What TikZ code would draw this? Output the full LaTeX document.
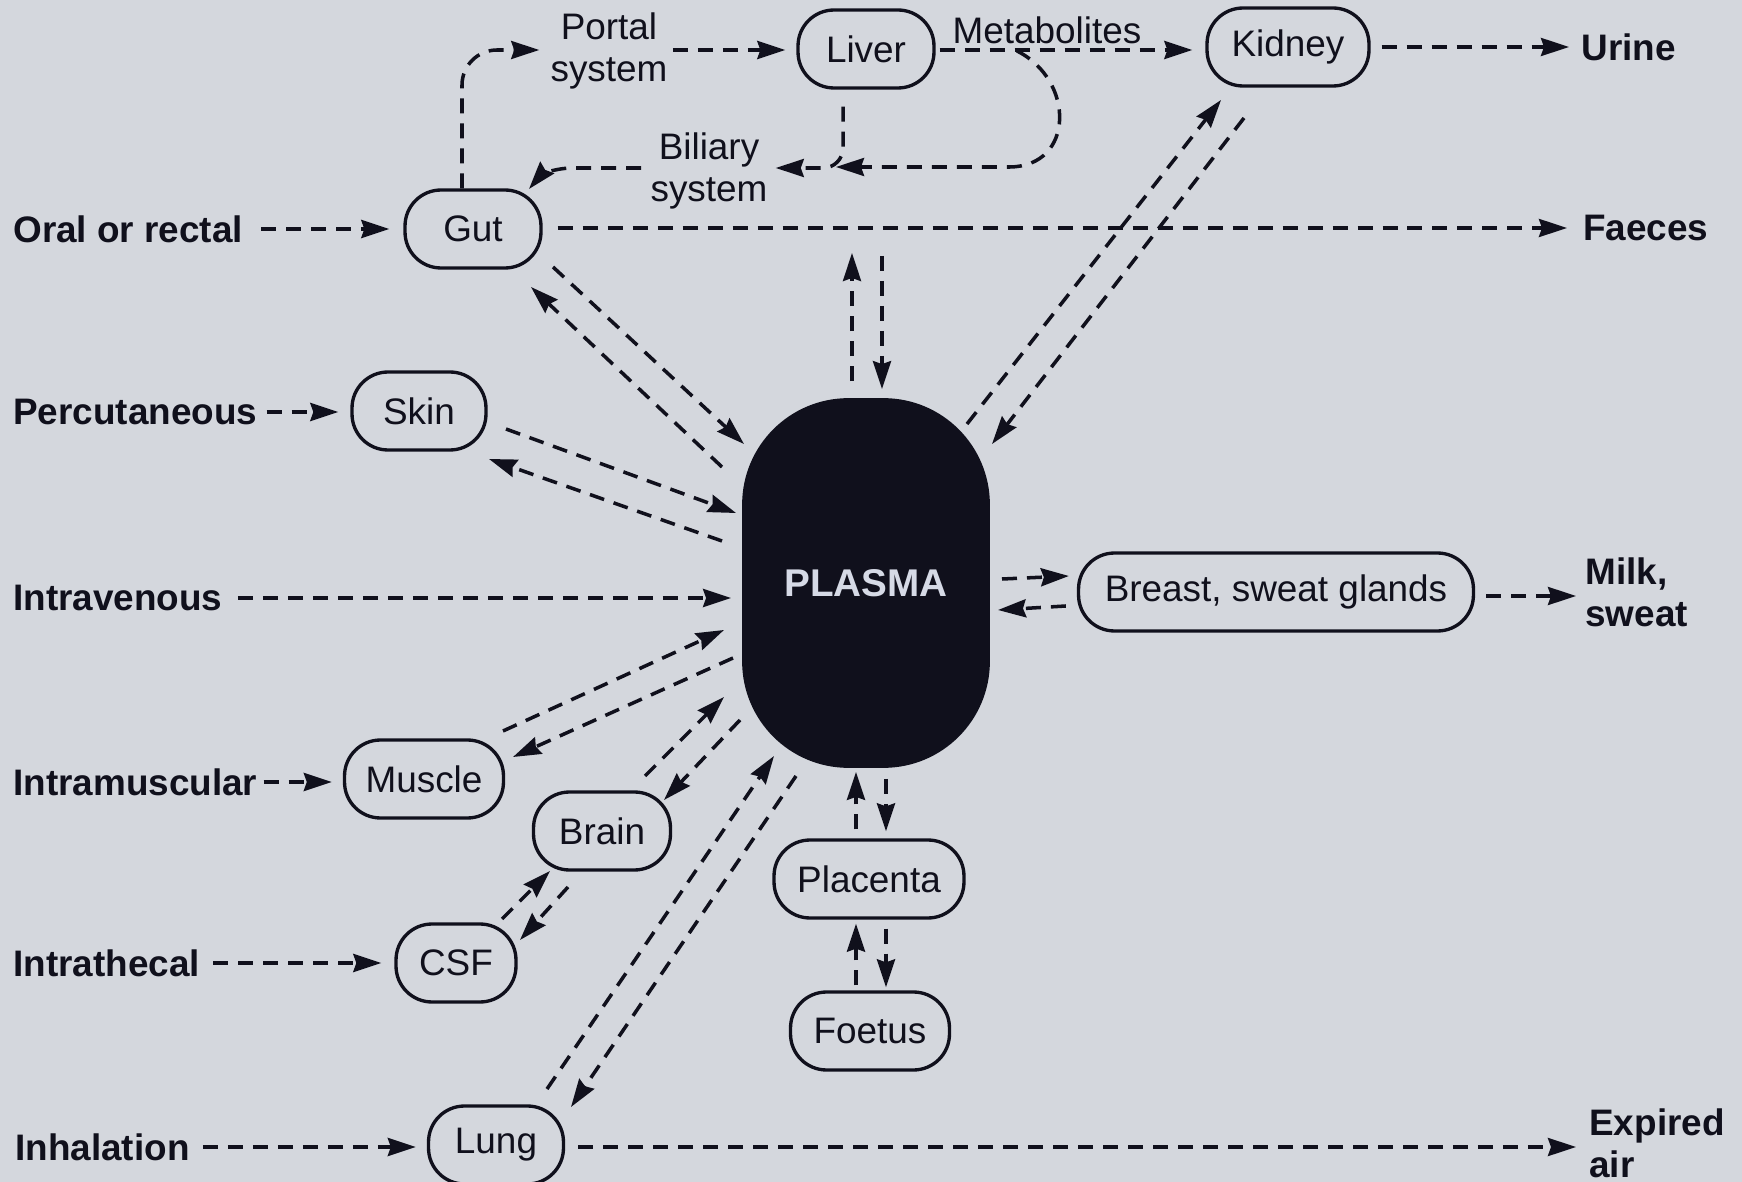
\documentclass[tikz,border=0pt]{standalone}
\usepackage{fontspec}
\setmainfont{Liberation Sans}
\usetikzlibrary{arrows.meta,calc}
\definecolor{bg}{RGB}{212,215,221}
\definecolor{ink}{RGB}{16,16,28}
\definecolor{plasmatext}{RGB}{214,218,230}
\begin{document}
\begin{tikzpicture}[x=0.02cm,y=-0.02cm,
 organ/.style={draw=ink, line width=1.9pt, rounded corners=0.72cm, minimum height=1.56cm, inner sep=0pt, text=ink, font=\fontsize{21}{24}\selectfont},
 route/.style={inner sep=0pt, text=ink, font=\fontsize{21}{24}\selectfont\bfseries},
 plain/.style={inner sep=0pt, text=ink, font=\fontsize{21}{24}\selectfont, align=center},
 flow/.style={draw=ink, line width=2pt, dash pattern=on 0.3cm off 0.2cm, -{Stealth[length=0.56cm,width=0.36cm,inset=0.06cm]}},
]
\fill[bg] (0,0) rectangle (1742,1182);
\useasboundingbox (0,0) rectangle (1742,1182);

% organs
\node[organ, minimum width=2.72cm] (liver) at (866,49) {Liver};
\node[organ, minimum width=3.24cm] (kidney) at (1288,47) {Kidney};
\node[organ, minimum width=2.72cm] (gut) at (473,229) {Gut};
\node[organ, minimum width=2.68cm] (skin) at (419,411) {Skin};
\node[draw=ink, fill=ink, line width=1.6pt, rounded corners=2.1cm, minimum width=4.9cm, minimum height=7.34cm, text=plasmatext, font=\fontsize{22}{26}\selectfont\bfseries] (plasma) at (866,583) {PLASMA};
\node[organ, minimum width=7.9cm] (breast) at (1276,592) {Breast, sweat glands};
\node[organ, minimum width=3.18cm] (muscle) at (424,779) {Muscle};
\node[organ, minimum width=2.74cm] (brain) at (602,831) {Brain};
\node[organ, minimum width=3.8cm] (placenta) at (869,879) {Placenta};
\node[organ, minimum width=2.4cm] (csf) at (456,963) {CSF};
\node[organ, minimum width=3.18cm] (foetus) at (870,1031) {Foetus};
\node[organ, minimum width=2.7cm] (lung) at (496,1145) {Lung};

% route labels
\node[route, anchor=west] (oral) at (13,229) {Oral or rectal};
\node[route, anchor=west] (perc) at (13,412) {Percutaneous};
\node[route, anchor=west] (iv) at (13,598) {Intravenous};
\node[route, anchor=west] (im) at (13,782) {Intramuscular};
\node[route, anchor=west] (it) at (13,963) {Intrathecal};
\node[route, anchor=west] (inh) at (15,1147) {Inhalation};

% outputs
\node[route, anchor=west] (urine) at (1581,47) {Urine};
\node[route, anchor=west] (faeces) at (1583,228) {Faeces};
\node[route, anchor=west, align=left] (milk) at (1585,592) {Milk,\\sweat};
\node[route, anchor=west, align=left] (expired) at (1589,1143) {Expired\\air};

% other texts
\node[plain] (portal) at (609,51) {Portal\\system};
\node[plain] (biliary) at (709,171) {Biliary\\system};
\node[plain] (metab) at (1047,30) {Metabolites};

% free ends
\coordinate (mstart) at (1017,51);
\coordinate (mend) at (836,167);
\coordinate (liverup) at (852,253);
\coordinate (liverdn) at (882,256);

% entry routes
\draw[flow] ($(oral.east)+(18,0)$) -- ($(gut.west)+(-14,0)$);
\draw[flow] ($(perc.east)+(9,0)$) -- ($(skin.west)+(-12,1)$);
\draw[flow] ($(iv.east)+(15,0)$) -- ($(plasma.west)+(-11,15)$);
\draw[flow] ($(im.east)+(6,0)$) -- ($(muscle.west)+(-11,3)$);
\draw[flow] ($(it.east)+(13,0)$) -- ($(csf.west)+(-13,0)$);
\draw[flow] ($(inh.east)+(13,0)$) -- ($(lung.west)+(-11,2)$);

% exits
\draw[flow] ($(gut.east)+(15,-1)$) -- ($(faeces.west)+(-16,0)$);
\draw[flow] ($(kidney.east)+(11,0)$) -- ($(urine.west)+(-12,0)$);
\draw[flow] ($(breast.east)+(11,4)$) -- ($(milk.west)+(-9,4)$);
\draw[flow] ($(lung.east)+(13,2)$) -- ($(expired.west)+(-13,4)$);

% portal / liver / biliary
\draw[flow, rounded corners=0.7cm] ($(gut.north)+(-11,0)$) |- ($(portal.west)+(-11,-1)$);
\draw[flow] ($(portal.east)+(5,-1)$) -- ($(liver.west)+(-11,1)$);
\draw[flow] ($(liver.east)+(4,1)$) -- ($(kidney.west)+(-13,3)$);
\draw[flow, rounded corners=0.4cm] ($(liver.south)+(-23,17)$) |- ($(biliary.east)+(8,-3)$);
\draw[flow] (mstart) .. controls (1075,80) and (1075,166) .. (1010,167) -- (mend);
\draw[flow] ($(biliary.west)+(-9,-3)$) -- ($(gut)+(100,-61)$) .. controls ($(gut)+(80,-61)$) and ($(gut)+(67,-53)$) .. ($(gut)+(56,-40)$);

% plasma exchanges
\draw[flow] ($(gut)+(80,38)$) -- ($(plasma)+(-122,-139)$);
\draw[flow] ($(plasma)+(-144,-116)$) -- ($(gut)+(58,58)$);
\draw[flow] ($(skin)+(87,18)$) -- ($(plasma)+(-130,-70)$);
\draw[flow] ($(plasma)+(-144,-42)$) -- ($(skin)+(70,48)$);
\draw[flow] ($(plasma.north)+(-14,-17)$) -- (liverup);
\draw[flow] (liverdn) -- ($(plasma.north)+(16,-9)$);
\draw[flow] ($(plasma)+(101,-159)$) -- ($(kidney)+(-67,53)$);
\draw[flow] ($(kidney)+(-44,71)$) -- ($(plasma)+(126,-139)$);
\draw[flow] ($(plasma)+(136,-4)$) -- ($(breast.west)+(-8,-16)$);
\draw[flow] ($(breast.west)+(-11,14)$) -- ($(plasma)+(132,27)$);
\draw[flow] ($(muscle)+(79,-48)$) -- ($(plasma)+(-142,47)$);
\draw[flow] ($(plasma)+(-133,75)$) -- ($(muscle)+(89,-22)$);
\draw[flow] ($(brain)+(43,-55)$) -- ($(plasma)+(-142,114)$);
\draw[flow] ($(plasma)+(-126,137)$) -- ($(brain)+(62,-31)$);
\draw[flow] ($(csf)+(46,-44)$) -- ($(brain)+(-52,40)$);
\draw[flow] ($(brain)+(-34,56)$) -- ($(csf)+(64,-23)$);
\draw[flow] ($(lung)+(51,-56)$) -- ($(plasma)+(-92,173)$);
\draw[flow] ($(plasma)+(-70,193)$) -- ($(lung)+(75,-38)$);
\draw[flow] ($(placenta.north)+(-13,-9)$) -- ($(plasma.south)+(-10,4)$);
\draw[flow] ($(plasma.south)+(20,11)$) -- ($(placenta.north)+(17,-7)$);
\draw[flow] ($(foetus.north)+(-14,-5)$) -- ($(placenta.south)+(-13,4)$);
\draw[flow] ($(placenta.south)+(17,9)$) -- ($(foetus.north)+(16,-3)$);
\end{tikzpicture}
\end{document}
